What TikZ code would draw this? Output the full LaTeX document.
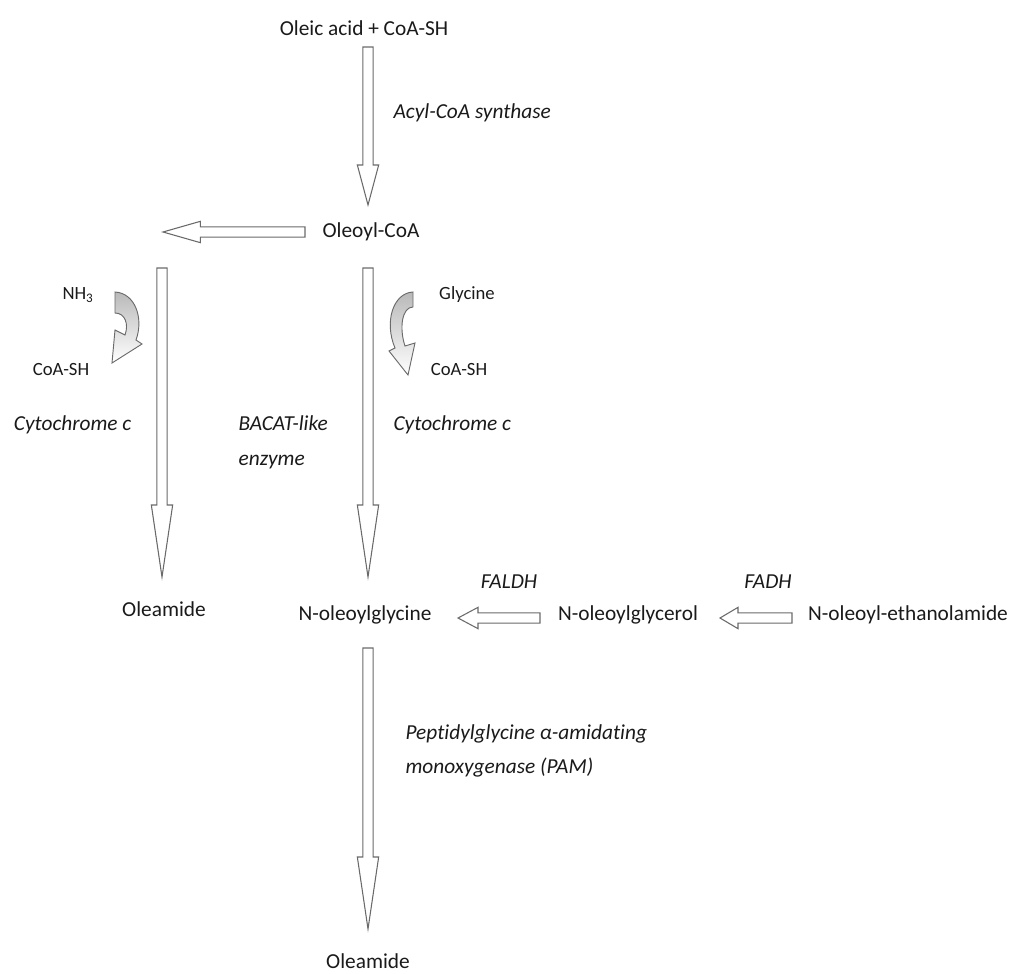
\documentclass[tikz,border=0pt]{standalone}
\usepackage{fontspec}
\setmainfont{Carlito}[Ligatures=NoCommon]
\usetikzlibrary{calc,positioning}
\definecolor{pathink}{HTML}{1A1A1A}
\definecolor{pathline}{HTML}{6A6A6A}
\tikzset{
  chem/.style={font=\fontsize{16}{26}\selectfont, inner sep=1pt, text=pathink},
  side/.style={font=\fontsize{14}{17}\selectfont, inner sep=1pt, text=pathink},
  enz/.style={font=\fontsize{16}{26}\selectfont\itshape, inner sep=1pt, align=left, text=pathink},
  fat/.style={draw=pathline, line width=0.8pt, fill=white, line join=miter},
  turnarrow/.style={draw=pathline, line width=0.7pt, top color=gray!55, bottom color=white}
}
% block arrow: head length (pt), from, to
\newcommand{\fatarrow}[3]{%
  \path (#2) coordinate (fatS) (#3) coordinate (fatE);
  \draw[fat] let \p1=($(fatE)-(fatS)$), \n1={veclen(\x1,\y1)}, \n2={atan2(\y1,\x1)} in
    [shift={(fatS)}, rotate=\n2]
    (0pt,3.9pt) -- ({\n1-#1pt},3.9pt) -- ({\n1-#1pt},8pt) -- ({\n1+0pt},0pt)
    -- ({\n1-#1pt},-8pt) -- ({\n1-#1pt},-3.9pt) -- (0pt,-3.9pt) -- cycle;}

\begin{document}
\begin{tikzpicture}[x=0.75pt, y=-0.75pt]
  \useasboundingbox (0,0) rectangle (1017,974);

  % compounds
  \node[chem] (oleic) at (364,28) {Oleic acid + CoA-SH};
  \node[chem] (oleoyl) at (371,232) {Oleoyl-CoA};
  \node[chem] (oleamideA) at (164,609) {Oleamide};
  \node[chem] (nolgly) at (365,615) {N-oleoylglycine};
  \node[chem] (nolglyc) at (628,615) {N-oleoylglycerol};
  \node[chem] (noea) at (908,615) {N-oleoyl-ethanolamide};
  \node[chem] (oleamideB) at (368,961) {Oleamide};

  % enzymes
  \node[enz, anchor=west] (acs) at (392,113) {Acyl-CoA synthase};
  \node[enz, anchor=east] (cytA) at (133,425) {Cytochrome c};
  \node[enz, anchor=west] (bacat) at (237,442) {BACAT-like\\enzyme};
  \node[enz, anchor=west] (cytB) at (392,425) {Cytochrome c};
  \node[enz] (faldh) at (509,582) {FALDH};
  \node[enz] (fadh) at (768,582) {FADH};
  \node[enz, anchor=west] (pam) at (404,751) {Peptidylglycine α-amidating\\monoxygenase (PAM)};

  % co-substrates
  \node[side] (nh) at (78,295) {NH\textsubscript{3}};
  \node[side] (coaA) at (61,370) {CoA-SH};
  \node[side] (gly) at (467,295) {Glycine};
  \node[side] (coaB) at (459,370) {CoA-SH};

  % main arrows
  \coordinate (leftEnd) at ($(oleoyl)+(-208,0)$);
  \fatarrow{30}{$(oleic)+(4,19)$}{$(oleoyl)+(-3,-27)$}
  \fatarrow{28}{$(oleoyl)+(-66,0)$}{leftEnd}
  \fatarrow{54}{$(oleoyl)+(-209,36)$}{$(oleamideA)+(-2,-32)$}
  \fatarrow{54}{$(oleoyl)+(-3,36)$}{$(nolgly)+(3,-38)$}
  \fatarrow{15}{$(nolglyc)+(-88,3)$}{$(nolgly)+(93,3)$}
  \fatarrow{13.5}{$(noea)+(-116,3)$}{$(nolglyc)+(92,3)$}
  \fatarrow{54}{$(nolgly)+(3,33)$}{$(oleamideB)+(0,-32)$}

  % curved side arrows
  \draw[turnarrow] (115,292) .. controls (135,293) and (144,318) .. (136,340)
    -- (142,344) -- (112,363) -- (115,330) -- (125,335)
    .. controls (129,324) and (125,313) .. (115,313) -- cycle;
  \draw[turnarrow] (413,292) .. controls (393,293) and (384,322) .. (395,348)
    -- (389,351) -- (408,375) -- (415,343) -- (405,346)
    .. controls (399,328) and (402,307) .. (413,307) -- cycle;
\end{tikzpicture}
\end{document}
